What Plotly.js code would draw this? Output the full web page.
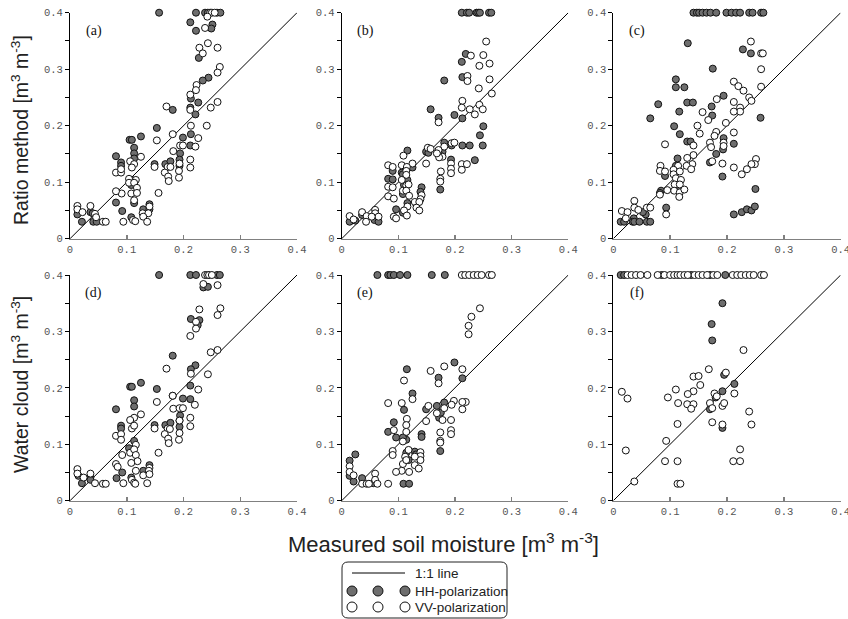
<!DOCTYPE html>
<html>
<head>
<meta charset="utf-8">
<script src="https://cdn.plot.ly/plotly-3.0.1.min.js"></script>
<style>html,body{margin:0;padding:0;background:#fff;}#chart{width:848px;height:619px;}</style>
</head>
<body>
<div id="chart"></div>
<script>
// ---------------- DATA: [measured, estimated] pairs ----------------
const hhA = [[0.157,0.4],[0.222,0.4],[0.238,0.4],[0.243,0.4],[0.259,0.4],[0.265,0.4],
 [0.212,0.383],[0.251,0.379],[0.249,0.372],[0.222,0.368],[0.227,0.32],[0.244,0.285],[0.234,0.28],[0.213,0.248],[0.226,0.241],[0.181,0.228],[0.212,0.232],[0.221,0.22],[0.153,0.196],[0.125,0.181],[0.105,0.175],[0.109,0.175],[0.213,0.185],[0.199,0.179],[0.113,0.161],[0.212,0.165],[0.113,0.151],[0.081,0.146],[0.194,0.151],[0.113,0.142],[0.09,0.135],[0.09,0.129],[0.193,0.14],[0.193,0.129],[0.149,0.132],[0.168,0.132],[0.177,0.137],[0.109,0.104],[0.108,0.095],[0.113,0.063],[0.081,0.064],[0.14,0.061],[0.129,0.052],[0.14,0.052],[0.092,0.049],[0.108,0.038],[0.013,0.043],[0.036,0.047],[0.04,0.045],[0.021,0.03],[0.041,0.03],[0.047,0.03]];
const vvA = [[0.247,0.4],[0.25,0.4],[0.255,0.4],[0.242,0.393],[0.238,0.373],[0.243,0.346],[0.228,0.338],[0.26,0.338],[0.234,0.328],[0.264,0.304],[0.26,0.294],[0.223,0.272],[0.222,0.263],[0.212,0.255],[0.26,0.242],[0.17,0.234],[0.248,0.232],[0.212,0.228],[0.241,0.2],[0.213,0.2],[0.153,0.174],[0.181,0.185],[0.226,0.178],[0.221,0.163],[0.194,0.165],[0.199,0.165],[0.125,0.145],[0.182,0.155],[0.106,0.137],[0.113,0.132],[0.109,0.126],[0.193,0.133],[0.212,0.14],[0.212,0.126],[0.149,0.127],[0.172,0.127],[0.177,0.127],[0.167,0.117],[0.173,0.11],[0.174,0.102],[0.192,0.108],[0.192,0.12],[0.081,0.117],[0.09,0.117],[0.09,0.123],[0.104,0.106],[0.116,0.104],[0.104,0.099],[0.113,0.099],[0.118,0.09],[0.108,0.08],[0.118,0.081],[0.113,0.068],[0.091,0.08],[0.081,0.084],[0.156,0.081],[0.14,0.057],[0.128,0.045],[0.138,0.045],[0.129,0.039],[0.136,0.03],[0.111,0.033],[0.115,0.031],[0.094,0.03],[0.013,0.058],[0.013,0.052],[0.022,0.047],[0.036,0.058],[0.044,0.044],[0.046,0.038],[0.058,0.03],[0.063,0.03]];

const hhB = [[0.212,0.4],[0.221,0.4],[0.225,0.4],[0.238,0.4],[0.241,0.4],[0.244,0.4],[0.26,0.4],[0.264,0.4],
 [0.219,0.327],[0.212,0.313],[0.213,0.286],[0.181,0.28],[0.157,0.229],[0.199,0.219],[0.213,0.213],[0.171,0.214],[0.25,0.199],[0.244,0.183],[0.213,0.165],[0.226,0.165],[0.249,0.165],[0.235,0.139],[0.194,0.165],[0.181,0.17],[0.178,0.154],[0.149,0.154],[0.153,0.152],[0.172,0.149],[0.193,0.14],[0.174,0.087],[0.116,0.156],[0.125,0.126],[0.09,0.12],[0.082,0.106],[0.09,0.105],[0.106,0.117],[0.108,0.114],[0.116,0.104],[0.11,0.095],[0.108,0.079],[0.141,0.091],[0.139,0.083],[0.132,0.06],[0.116,0.063],[0.108,0.046],[0.096,0.052],[0.014,0.03],[0.024,0.032],[0.036,0.042],[0.058,0.033],[0.065,0.03]];
const vvB = [[0.255,0.349],[0.228,0.324],[0.25,0.325],[0.243,0.306],[0.261,0.31],[0.222,0.288],[0.222,0.279],[0.261,0.282],[0.242,0.266],[0.265,0.257],[0.213,0.244],[0.212,0.232],[0.226,0.229],[0.243,0.237],[0.249,0.229],[0.235,0.22],[0.171,0.206],[0.212,0.132],[0.221,0.132],[0.212,0.122],[0.194,0.169],[0.199,0.17],[0.181,0.163],[0.178,0.145],[0.172,0.144],[0.171,0.157],[0.152,0.161],[0.157,0.159],[0.149,0.133],[0.168,0.151],[0.193,0.133],[0.193,0.124],[0.193,0.116],[0.175,0.119],[0.174,0.106],[0.174,0.101],[0.109,0.147],[0.125,0.133],[0.082,0.13],[0.09,0.127],[0.106,0.13],[0.115,0.127],[0.114,0.12],[0.114,0.113],[0.106,0.104],[0.114,0.094],[0.118,0.096],[0.108,0.085],[0.114,0.085],[0.119,0.076],[0.082,0.092],[0.09,0.091],[0.082,0.075],[0.092,0.071],[0.141,0.077],[0.139,0.07],[0.129,0.065],[0.137,0.065],[0.132,0.055],[0.137,0.05],[0.116,0.057],[0.11,0.05],[0.115,0.041],[0.092,0.039],[0.096,0.036],[0.014,0.04],[0.021,0.034],[0.036,0.047],[0.044,0.04],[0.043,0.03],[0.059,0.051],[0.059,0.045],[0.065,0.039],[0.053,0.039]];

const hhC = [[0.141,0.4],[0.147,0.4],[0.151,0.4],[0.157,0.4],[0.164,0.4],[0.171,0.4],[0.181,0.4],[0.199,0.4],[0.208,0.4],[0.216,0.4],[0.223,0.4],[0.239,0.4],[0.245,0.4],[0.26,0.4],[0.264,0.4],
 [0.131,0.346],[0.228,0.335],[0.242,0.328],[0.175,0.301],[0.11,0.282],[0.11,0.268],[0.125,0.268],[0.194,0.253],[0.079,0.238],[0.13,0.241],[0.14,0.241],[0.173,0.234],[0.116,0.225],[0.065,0.213],[0.259,0.214],[0.174,0.218],[0.107,0.199],[0.117,0.185],[0.13,0.172],[0.136,0.172],[0.194,0.178],[0.212,0.168],[0.193,0.158],[0.181,0.15],[0.113,0.142],[0.11,0.129],[0.17,0.135],[0.192,0.11],[0.091,0.111],[0.084,0.085],[0.082,0.081],[0.117,0.086],[0.093,0.055],[0.25,0.088],[0.212,0.043],[0.226,0.047],[0.235,0.052],[0.243,0.05],[0.249,0.057],[0.057,0.043],[0.036,0.036],[0.052,0.047],[0.013,0.03],[0.019,0.03],[0.034,0.03],[0.037,0.03],[0.046,0.03],[0.059,0.03],[0.065,0.03]];
const vvC = [[0.242,0.349],[0.26,0.328],[0.263,0.328],[0.26,0.3],[0.212,0.278],[0.22,0.27],[0.229,0.262],[0.26,0.269],[0.239,0.25],[0.243,0.244],[0.182,0.247],[0.212,0.242],[0.223,0.232],[0.223,0.225],[0.212,0.225],[0.157,0.224],[0.167,0.21],[0.198,0.205],[0.148,0.2],[0.152,0.186],[0.181,0.189],[0.178,0.182],[0.212,0.188],[0.141,0.165],[0.17,0.17],[0.172,0.162],[0.194,0.17],[0.194,0.164],[0.091,0.167],[0.141,0.148],[0.13,0.143],[0.114,0.129],[0.174,0.137],[0.192,0.133],[0.139,0.132],[0.129,0.129],[0.137,0.123],[0.251,0.141],[0.249,0.132],[0.243,0.132],[0.235,0.123],[0.226,0.114],[0.212,0.126],[0.083,0.129],[0.082,0.12],[0.091,0.119],[0.106,0.122],[0.106,0.114],[0.117,0.119],[0.11,0.107],[0.119,0.104],[0.108,0.096],[0.117,0.096],[0.107,0.085],[0.117,0.082],[0.116,0.074],[0.095,0.086],[0.125,0.087],[0.082,0.078],[0.093,0.043],[0.015,0.049],[0.025,0.047],[0.022,0.036],[0.037,0.067],[0.037,0.055],[0.044,0.051],[0.059,0.055],[0.065,0.055]];

const hhD = [[0.157,0.4],[0.212,0.4],[0.222,0.4],[0.259,0.4],[0.264,0.4],[0.235,0.378],[0.243,0.379],
 [0.213,0.322],[0.228,0.32],[0.225,0.311],[0.181,0.257],[0.221,0.24],[0.213,0.233],[0.125,0.209],[0.106,0.202],[0.109,0.202],[0.153,0.198],[0.212,0.204],[0.181,0.186],[0.199,0.181],[0.212,0.18],[0.113,0.178],[0.113,0.167],[0.081,0.162],[0.194,0.151],[0.09,0.133],[0.09,0.128],[0.193,0.142],[0.193,0.131],[0.149,0.134],[0.168,0.134],[0.177,0.138],[0.113,0.106],[0.104,0.093],[0.14,0.063],[0.129,0.053],[0.092,0.05],[0.108,0.041],[0.082,0.04],[0.015,0.044],[0.036,0.041],[0.036,0.037],[0.021,0.031]];
const vvD = [[0.238,0.4],[0.242,0.4],[0.245,0.4],[0.25,0.4],[0.235,0.384],[0.26,0.382],
 [0.228,0.339],[0.265,0.341],[0.26,0.329],[0.222,0.317],[0.222,0.305],[0.212,0.292],[0.248,0.263],[0.26,0.267],[0.17,0.234],[0.213,0.225],[0.243,0.224],[0.226,0.197],[0.181,0.186],[0.22,0.17],[0.153,0.175],[0.182,0.163],[0.193,0.164],[0.199,0.164],[0.125,0.153],[0.113,0.147],[0.106,0.143],[0.212,0.147],[0.109,0.128],[0.113,0.133],[0.193,0.142],[0.193,0.12],[0.192,0.108],[0.212,0.132],[0.149,0.128],[0.172,0.128],[0.176,0.127],[0.167,0.118],[0.173,0.11],[0.174,0.102],[0.081,0.115],[0.09,0.118],[0.09,0.108],[0.116,0.099],[0.106,0.085],[0.113,0.091],[0.116,0.081],[0.119,0.07],[0.156,0.085],[0.092,0.081],[0.081,0.065],[0.084,0.06],[0.108,0.067],[0.14,0.058],[0.139,0.053],[0.116,0.053],[0.129,0.045],[0.14,0.047],[0.136,0.031],[0.094,0.031],[0.109,0.037],[0.113,0.032],[0.115,0.03],[0.013,0.056],[0.013,0.048],[0.024,0.041],[0.036,0.048],[0.044,0.031],[0.058,0.03],[0.063,0.03]];

const hhE = [[0.063,0.4],[0.082,0.4],[0.086,0.4],[0.092,0.4],[0.103,0.4],[0.116,0.4],[0.159,0.4],[0.182,0.4],
 [0.199,0.245],[0.115,0.233],[0.213,0.217],[0.171,0.218],[0.125,0.19],[0.11,0.161],[0.181,0.174],[0.168,0.168],[0.149,0.162],[0.172,0.147],[0.175,0.156],[0.174,0.088],[0.092,0.139],[0.082,0.122],[0.096,0.112],[0.114,0.108],[0.108,0.112],[0.141,0.118],[0.141,0.113],[0.114,0.085],[0.129,0.087],[0.131,0.082],[0.118,0.072],[0.109,0.03],[0.119,0.03],[0.014,0.071],[0.014,0.044],[0.024,0.082],[0.021,0.034],[0.036,0.04],[0.056,0.031]];
const vvE = [[0.212,0.4],[0.218,0.4],[0.225,0.4],[0.233,0.4],[0.24,0.4],[0.247,0.4],[0.26,0.4],[0.265,0.4],
 [0.244,0.341],[0.229,0.326],[0.224,0.31],[0.224,0.295],[0.181,0.238],[0.157,0.23],[0.213,0.233],[0.11,0.213],[0.171,0.208],[0.125,0.18],[0.082,0.173],[0.106,0.173],[0.198,0.177],[0.219,0.175],[0.213,0.175],[0.213,0.162],[0.181,0.164],[0.194,0.17],[0.153,0.168],[0.168,0.155],[0.178,0.143],[0.193,0.143],[0.193,0.125],[0.193,0.118],[0.149,0.141],[0.174,0.121],[0.174,0.106],[0.174,0.103],[0.092,0.125],[0.115,0.145],[0.114,0.134],[0.114,0.122],[0.108,0.105],[0.09,0.088],[0.09,0.081],[0.118,0.09],[0.112,0.078],[0.139,0.086],[0.139,0.079],[0.139,0.072],[0.129,0.078],[0.129,0.063],[0.136,0.057],[0.108,0.065],[0.114,0.072],[0.119,0.051],[0.106,0.053],[0.096,0.051],[0.082,0.03],[0.014,0.061],[0.014,0.051],[0.021,0.045],[0.036,0.03],[0.044,0.03],[0.048,0.03],[0.059,0.048],[0.059,0.037],[0.063,0.03]];

const hhF = [[0.013,0.4],[0.019,0.4],[0.085,0.4],[0.137,0.4],[0.17,0.4],[0.197,0.4],
 [0.192,0.35],[0.173,0.313],[0.174,0.284],[0.195,0.223],[0.213,0.207],[0.192,0.194],[0.18,0.183],[0.17,0.162],[0.192,0.129]];
const vvF = [[0.025,0.4],[0.032,0.4],[0.04,0.4],[0.048,0.4],[0.06,0.4],[0.078,0.4],[0.09,0.4],[0.1,0.4],[0.107,0.4],[0.113,0.4],[0.118,0.4],[0.125,0.4],[0.131,0.4],[0.143,0.4],[0.15,0.4],[0.157,0.4],[0.165,0.4],[0.176,0.4],[0.183,0.4],[0.21,0.4],[0.218,0.4],[0.225,0.4],[0.233,0.4],[0.24,0.4],[0.247,0.4],[0.26,0.4],[0.265,0.4],
 [0.229,0.267],[0.168,0.233],[0.198,0.227],[0.141,0.22],[0.15,0.221],[0.153,0.205],[0.11,0.197],[0.141,0.194],[0.015,0.193],[0.096,0.183],[0.025,0.181],[0.131,0.189],[0.178,0.19],[0.213,0.19],[0.182,0.185],[0.114,0.173],[0.13,0.171],[0.141,0.171],[0.137,0.163],[0.17,0.173],[0.174,0.164],[0.192,0.168],[0.195,0.173],[0.239,0.158],[0.174,0.139],[0.113,0.136],[0.192,0.135],[0.243,0.135],[0.093,0.106],[0.022,0.089],[0.223,0.091],[0.091,0.07],[0.113,0.07],[0.211,0.07],[0.223,0.07],[0.037,0.034],[0.113,0.03],[0.118,0.03]];

const panelLabels = ['(a)','(b)','(c)','(d)','(e)','(f)'];
const oneToOne = [0, 0.4];
const tickVals = [0, 0.1, 0.2, 0.3, 0.4];
const tickText = ['0', '0.1', '0.2', '0.3', '0.4'];
const rowTitles = ['Ratio method [m<sup>3</sup> m<sup>-3</sup>]', 'Water cloud [m<sup>3</sup> m<sup>-3</sup>]'];
const xTitle = 'Measured soil moisture [m<sup>3</sup> m<sup>-3</sup>]';
const legendLabels = ['1:1 line', 'HH-polarization', 'VV-polarization'];

// ---------------- LAYOUT / STYLE ----------------
const W = 848, H = 619;
const HH_COLOR = '#6e6e6e';
const TICK_FONT = {family: 'Liberation Mono, Courier New, monospace', size: 10.5, color: '#555'};
const colPx = [[70, 297], [341.7, 568.3], [613.3, 840.7]];
const rowPx = [[12.7, 238.7], [275, 500.7]];
const panels = [[hhA, vvA], [hhB, vvB], [hhC, vvC], [hhD, vvD], [hhE, vvE], [hhF, vvF]];

const traces = [];
const layout = {
  width: W, height: H,
  margin: {l: 0, r: 0, t: 0, b: 0, pad: 0},
  paper_bgcolor: '#ffffff', plot_bgcolor: 'rgba(0,0,0,0)',
  showlegend: false,
  annotations: [], shapes: []
};

panels.forEach((p, i) => {
  const n = i + 1;
  const sfx = n === 1 ? '' : String(n);
  const xa = 'x' + sfx, ya = 'y' + sfx;
  const row = Math.floor(i / 3), col = i % 3;
  layout['xaxis' + sfx] = {
    domain: [colPx[col][0] / W, colPx[col][1] / W],
    anchor: ya, range: [0, 0.4], fixedrange: true,
    showgrid: false, zeroline: false, showline: true,
    linecolor: '#808080', linewidth: 1.5,
    ticks: 'inside', ticklen: 4, tickwidth: 1.5, tickcolor: '#808080',
    tickmode: 'array', tickvals: tickVals, ticktext: tickText,
    ticklabeloverflow: 'allow',
    tickfont: TICK_FONT
  };
  layout['yaxis' + sfx] = {
    domain: [1 - rowPx[row][1] / H, 1 - rowPx[row][0] / H],
    anchor: xa, range: [0, 0.4], fixedrange: true,
    showgrid: false, zeroline: false, showline: true,
    linecolor: '#000', linewidth: 1,
    ticks: 'outside', ticklen: 4, tickwidth: 1, tickcolor: '#000',
    tickmode: 'array', tickvals: tickVals, ticktext: tickText,
    minor: {dtick: 0.05, tick0: 0, ticks: 'outside', ticklen: 4, tickwidth: 1, tickcolor: '#000', showgrid: false},
    ticklabeloverflow: 'allow',
    tickfont: TICK_FONT
  };
  traces.push({
    x: oneToOne, y: oneToOne, xaxis: xa, yaxis: ya, mode: 'lines',
    line: {color: '#000', width: 1}, hoverinfo: 'skip'
  });
  traces.push({
    x: p[0].map(d => d[0]), y: p[0].map(d => d[1]), xaxis: xa, yaxis: ya,
    mode: 'markers', cliponaxis: false, name: legendLabels[1],
    marker: {size: 7, color: HH_COLOR, line: {color: '#111', width: 1}}
  });
  traces.push({
    x: p[1].map(d => d[0]), y: p[1].map(d => d[1]), xaxis: xa, yaxis: ya,
    mode: 'markers', cliponaxis: false, name: legendLabels[2],
    marker: {size: 7, color: '#ffffff', line: {color: '#111', width: 1}}
  });
  layout.annotations.push({
    xref: xa, yref: ya, x: 0.042, y: 0.368, text: panelLabels[i],
    showarrow: false, xanchor: 'center', yanchor: 'middle',
    font: {family: 'Liberation Serif, serif', size: 14, color: '#111'}
  });
});

// Row titles and x title
const rowCenters = [130, 385];
rowTitles.forEach((t, r) => {
  layout.annotations.push({
    xref: 'paper', yref: 'paper', x: 20 / W, y: 1 - rowCenters[r] / H,
    text: t, textangle: -90, showarrow: false, xanchor: 'center', yanchor: 'middle',
    font: {family: 'Liberation Sans, Arial, sans-serif', size: 19.5, color: '#222'}
  });
});
layout.annotations.push({
  xref: 'paper', yref: 'paper', x: 443 / W, y: 1 - 543 / H,
  text: xTitle, showarrow: false, xanchor: 'center', yanchor: 'middle',
  font: {family: 'Liberation Sans, Arial, sans-serif', size: 22, color: '#222'}
});

// Pixel overlay axes for the custom legend
layout.xaxis7 = {domain: [0, 1], range: [0, W], visible: false, fixedrange: true, anchor: 'y7'};
layout.yaxis7 = {domain: [0, 1], range: [H, 0], visible: false, fixedrange: true, anchor: 'x7'};
const bx0 = 342, bx1 = 507, by0 = 562, by1 = 618, r = 6;
layout.shapes.push({
  type: 'path', xref: 'x7', yref: 'y7', layer: 'above',
  path: `M ${bx0 + r},${by0} L ${bx1 - r},${by0} Q ${bx1},${by0} ${bx1},${by0 + r} L ${bx1},${by1 - r} Q ${bx1},${by1} ${bx1 - r},${by1} L ${bx0 + r},${by1} Q ${bx0},${by1} ${bx0},${by1 - r} L ${bx0},${by0 + r} Q ${bx0},${by0} ${bx0 + r},${by0} Z`,
  line: {color: '#222', width: 1}, fillcolor: 'rgba(0,0,0,0)'
});
const legRows = [573, 591, 607];
layout.shapes.push({type: 'line', xref: 'x7', yref: 'y7', x0: 352, x1: 405, y0: legRows[0], y1: legRows[0], line: {color: '#000', width: 1}});
const legCx = [352, 378, 405], rad = 5;
[HH_COLOR, '#ffffff'].forEach((c, k) => {
  legCx.forEach(cx => {
    layout.shapes.push({type: 'circle', xref: 'x7', yref: 'y7', x0: cx - rad, x1: cx + rad,
      y0: legRows[k + 1] - rad, y1: legRows[k + 1] + rad, fillcolor: c, line: {color: '#111', width: 1}});
  });
});
legendLabels.forEach((t, k) => {
  layout.annotations.push({
    xref: 'x7', yref: 'y7', x: 413, y: legRows[k], text: t, showarrow: false,
    xanchor: 'left', yanchor: 'middle',
    font: {family: 'Liberation Sans, Arial, sans-serif', size: 13.5, color: '#222'}
  });
});
traces.push({x: [], y: [], xaxis: 'x7', yaxis: 'y7', mode: 'markers', hoverinfo: 'skip'});

Plotly.newPlot('chart', traces, layout, {staticPlot: true, displayModeBar: false});
</script>
</body>
</html>
